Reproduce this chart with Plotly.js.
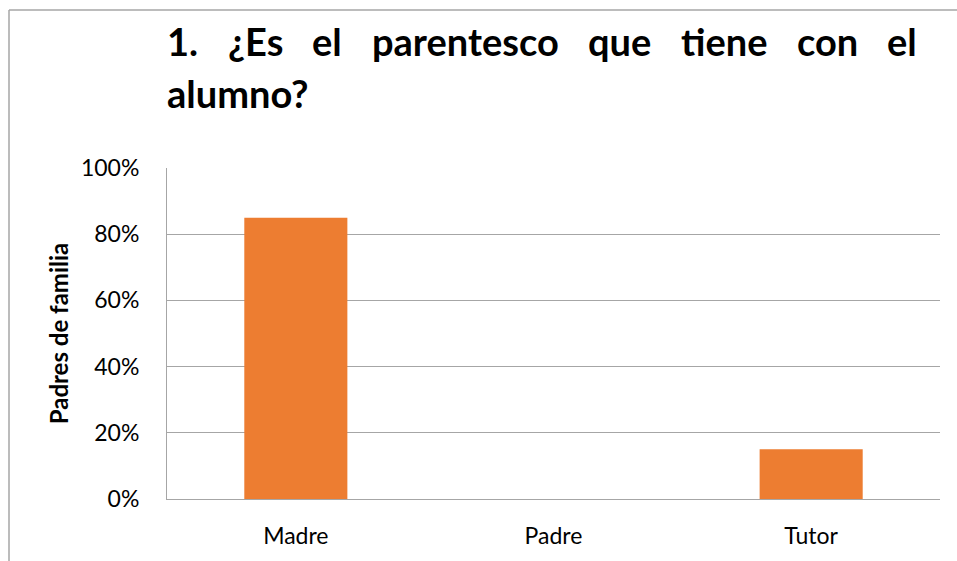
<!DOCTYPE html>
<html>
<head>
<meta charset="utf-8">
<script src="https://cdn.plot.ly/plotly-3.0.1.min.js"></script>
<style>html,body{margin:0;padding:0;background:#fff;}#chart{width:957px;height:561px;}</style>
</head>
<body>
<div id="chart"></div>
<script>
const categories = ["Madre", "Padre", "Tutor"];
const values = [0.85, 0, 0.15];
const tickValues = [0, 0.2, 0.4, 0.6, 0.8, 1.0];
const tickLabels = ["0%", "20%", "40%", "60%", "80%", "100%"];
const titleLine1 = "1. ¿Es el parentesco que tiene con el";
const titleLine2 = "alumno?";
const yTitle = "Padres de familia";

const W = 957, H = 561;
const M = {l: 167, r: 17, t: 168, b: 62};
const plotW = W - M.l - M.r, plotH = H - M.t - M.b;
const titleFont = {family: "Lato, 'Open Sans', sans-serif", size: 38, color: "#000", weight: 700};

// justify first title line between pixel 165 and 915
const cv = document.createElement("canvas").getContext("2d");
cv.font = "bold 38px Lato";
const words = titleLine1.split(" ");
const widths = words.map(w => cv.measureText(w).width);
const leftPx = 165, rightPx = 915;
const gap = (rightPx - leftPx - widths.reduce((a, b) => a + b, 0)) / (words.length - 1);
const annotations = [];
let cur = leftPx;
words.forEach((w, i) => {
  annotations.push({text: "<b>" + w + "</b>", xref: "paper", yref: "paper",
    x: (cur - M.l) / plotW, y: (H - 41 - M.b) / plotH, xanchor: "left", yanchor: "middle",
    showarrow: false, font: titleFont});
  cur += widths[i] + gap;
});
annotations.push({text: "<b>" + titleLine2 + "</b>", xref: "paper", yref: "paper",
  x: (leftPx - M.l) / plotW, y: (H - 93 - M.b) / plotH, xanchor: "left", yanchor: "middle",
  showarrow: false, font: titleFont});

const px2x = p => (p - M.l) / plotW;
const py2y = p => (H - M.b - p) / plotH;
const borderColor = "#A6A6A6";

const trace = {
  type: "bar", x: categories, y: values,
  marker: {color: "#ED7D31"}, hoverinfo: "skip"
};

const layout = {
  width: W, height: H,
  margin: M,
  paper_bgcolor: "#fff", plot_bgcolor: "#fff",
  font: {family: "Lato, 'Open Sans', sans-serif", color: "#000"},
  showlegend: false,
  bargap: 0.6,
  xaxis: {
    showgrid: false, showline: true, linecolor: borderColor, linewidth: 1,
    ticks: "", tickfont: {size: 23, color: "#000"}, ticklabelstandoff: 16,
    fixedrange: true
  },
  yaxis: {
    range: [0, 1], tickvals: tickValues, ticktext: tickLabels,
    showgrid: true, gridcolor: borderColor, gridwidth: 1,
    showline: true, linecolor: borderColor, linewidth: 1, zeroline: false,
    ticks: "", tickfont: {size: 23, color: "#000"}, ticklabelstandoff: 22,
    title: {text: "<b>" + yTitle + "</b>", font: {size: 24, color: "#000"}, standoff: 5},
    fixedrange: true
  },
  annotations: annotations,
  shapes: [
    {type: "line", xref: "paper", yref: "paper", x0: px2x(9), x1: px2x(9), y0: py2y(10), y1: py2y(H + 5),
      line: {color: borderColor, width: 1.5}},
    {type: "line", xref: "paper", yref: "paper", x0: px2x(9), x1: px2x(W + 5), y0: py2y(10), y1: py2y(10),
      line: {color: borderColor, width: 1.5}}
  ]
};

Plotly.newPlot("chart", [trace], layout, {displayModeBar: false, staticPlot: true});
</script>
</body>
</html>
